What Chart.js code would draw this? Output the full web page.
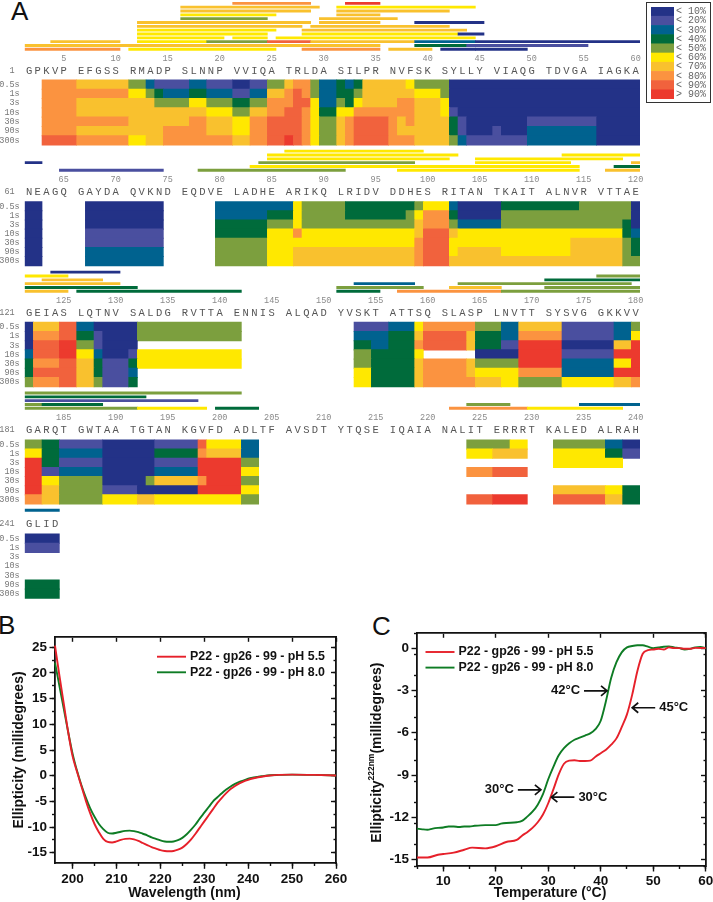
<!DOCTYPE html>
<html>
<head>
<meta charset="utf-8">
<title>P22 gp26 HX-MS and CD</title>
<script src="https://cdn.jsdelivr.net/npm/chart.js@4/dist/chart.umd.min.js"></script>
<style>
  html, body { margin: 0; padding: 0; background: #fff; overflow: hidden; }
  body { position: relative; width: 713px; height: 902px; }
  canvas { position: absolute; }
  .tag { position: absolute; font: 26px/26px "Liberation Sans", sans-serif; color: #111; }
  #legendBox { position: absolute; left: 646px; top: 2px; width: 63px; height: 99px; border: 1.5px solid #333; }
</style>
</head>
<body>
<div class="tag" style="left:11px;top:-2px">A</div>
<div class="tag" style="left:-2px;top:612px">B</div>
<div class="tag" style="left:372px;top:613px">C</div>
<div id="legendBox"></div>
<canvas id="block0"></canvas>
<canvas id="block1"></canvas>
<canvas id="block2"></canvas>
<canvas id="block3"></canvas>
<canvas id="block4"></canvas>
<canvas id="legendChart"></canvas>
<canvas id="cdChart"></canvas>
<canvas id="meltChart"></canvas>
<script>
// ---- panel A: sequence coverage and deuterium uptake ----
const TIMES = ['0.5s', '1s', '3s', '10s', '30s', '90s', '300s'];
const LEVEL_LABELS = ['< 10%', '< 20%', '< 30%', '< 40%', '< 50%', '< 60%', '< 70%', '< 80%', '< 90%', '> 90%'];
const LEVEL_COLORS = ['#233287', '#4A4F9F', '#00628F', '#006B3B', '#7C9F3E', '#FFE800', '#F9C12E', '#FB9340', '#F1623D', '#EC3A2E'];

const SEQUENCES = [
  'GPKVP EFGSS RMADP SLNNP VVIQA TRLDA SILPR NVFSK SYLLY VIAQG TDVGA IAGKA',
  'NEAGQ GAYDA QVKND EQDVE LADHE ARIKQ LRIDV DDHES RITAN TKAIT ALNVR VTTAE',
  'GEIAS LQTNV SALDG RVTTA ENNIS ALQAD YVSKT ATTSQ SLASP LNVTT SYSVG GKKVV',
  'GARQT GWTAA TGTAN KGVFD ADLTF AVSDT YTQSE IQAIA NALIT ERRRT KALED ALRAH',
  'GLID'
];
const FIRST_RESIDUES = [1, 61, 121, 181, 241];

// uptake rows: start slot, level, start slot, level, ..., end slot (null = no data)
const uptake0 = [
  [2,7,6,6,12,4,14,2,15,1,19,2,21,1,24,0,26,1,28,4,30,6,31,7,33,4,34,2,36,3,37,2,38,3,39,6,44,5,45,4,49,0,71],
  [2,7,12,5,14,4,15,3,16,2,19,3,21,2,24,1,26,2,28,6,30,7,31,8,32,7,33,4,34,2,36,3,38,4,39,6,45,5,48,4,49,0,71],
  [2,7,6,6,15,4,19,5,21,4,24,3,26,4,28,7,31,8,33,5,34,2,36,4,37,3,38,5,39,6,43,7,45,6,48,5,49,0,71],
  [2,7,6,6,21,5,24,4,26,6,28,7,30,8,32,7,33,5,34,3,36,5,38,7,45,6,48,5,49,1,50,0,71],
  [2,7,12,6,19,7,21,6,24,5,26,7,28,8,32,7,33,5,34,4,36,6,37,7,38,8,42,7,43,6,44,7,45,6,49,3,50,1,51,0,58,1,66,0,71],
  [2,7,6,6,16,7,21,6,24,5,26,7,28,8,32,7,33,5,34,4,36,6,37,7,38,8,42,7,43,6,49,3,50,1,51,0,54,1,55,0,58,2,66,0,71],
  [2,8,6,7,12,5,14,6,16,7,24,6,26,7,28,8,30,9,31,8,32,7,33,5,34,4,36,6,37,7,38,8,42,7,45,6,49,4,50,2,51,1,58,2,66,0,71]
];
const uptake1 = [
  [0,0,2,null,7,0,16,null,22,2,31,5,32,4,37,3,45,4,46,5,49,2,50,0,55,3,64,4,70,0,71],
  [0,0,2,null,7,0,16,null,22,2,28,3,31,5,32,4,37,3,44,4,45,5,46,7,49,3,50,0,55,4,70,0,71],
  [0,0,2,null,7,0,16,null,22,3,28,4,31,5,32,4,45,6,46,7,49,4,50,2,55,4,69,3,70,0,71],
  [0,0,2,null,7,1,16,null,22,3,28,5,31,7,32,5,45,6,46,8,49,6,50,5,69,3,70,2,71],
  [0,0,2,null,7,1,16,null,22,4,28,5,45,7,46,8,49,5,63,6,69,4,70,3,71],
  [0,0,2,null,7,2,16,null,22,4,28,5,31,6,45,7,46,8,49,5,50,6,55,5,63,6,69,4,70,3,71],
  [0,0,2,null,7,2,16,null,22,4,28,5,31,6,45,7,46,8,49,6,69,4,71]
];
const uptake2 = [
  [0,0,1,6,4,8,6,2,8,0,13,4,25,null,38,1,42,2,45,5,46,7,52,4,55,2,57,6,62,1,68,2,70,4,71],
  [0,0,1,7,4,8,6,3,8,1,9,0,13,4,25,null,38,2,42,3,45,6,46,8,51,6,52,3,55,2,57,7,62,1,68,2,70,5,71],
  [0,0,1,8,4,9,6,4,8,1,9,0,13,null,38,3,40,2,42,3,45,7,46,8,51,6,52,3,55,1,57,9,62,0,68,6,70,9,71],
  [0,2,1,8,4,9,6,5,8,2,9,0,12,1,13,5,25,null,38,4,40,3,45,5,46,null,52,0,57,9,62,1,68,9,71],
  [0,3,1,7,4,8,6,6,8,3,9,1,12,3,13,5,25,null,38,4,40,3,45,6,46,7,51,6,52,4,57,9,62,2,68,5,70,9,71],
  [0,3,1,8,6,6,8,3,9,1,12,2,13,null,38,5,40,3,45,6,46,7,51,6,52,5,57,7,62,2,68,9,71],
  [0,4,1,7,4,8,6,6,8,4,9,1,12,3,13,null,38,5,40,3,45,6,46,7,52,6,55,5,57,4,62,5,68,6,70,7,71]
];
const uptake3 = [
  [0,4,2,3,4,1,9,0,15,1,20,8,21,5,25,2,27,null,51,4,56,5,58,null,61,4,67,2,69,0,71],
  [0,5,2,3,4,2,9,0,15,3,20,7,21,6,25,2,27,null,51,5,54,6,58,null,61,5,67,3,69,1,71],
  [0,9,2,3,4,1,9,0,15,1,20,9,25,4,27,null,61,5,69],
  [0,9,2,1,4,2,9,0,15,2,20,9,25,5,27,null,51,7,54,8,58],
  [0,9,2,5,4,4,9,0,14,4,15,6,20,7,21,9,25,4,27],
  [0,9,2,6,4,4,9,1,13,0,20,9,25,5,27,null,61,6,67,5,69,3,71],
  [0,7,2,6,4,4,9,5,13,6,15,5,25,4,27,null,51,8,54,9,58,null,61,8,67,6,69,3,71]
];
const uptake4 = [[0,0,4], [0,1,4], [], [], [], [0,3,4], [0,3,4]];
const UPTAKE = [uptake0, uptake1, uptake2, uptake3, uptake4];

// peptides, one list per lane from the top: [start slot, end slot, level]
const peptides0 = [
  [[24,33,7],[37,41,9]],
  [[18,34,6],[36,52,5]],
  [[18,33,6],[36,49,6]],
  [[18,29,5],[36,41,6]],
  [[18,28,4],[34,43,6]],
  [[13,33,6],[34,41,6],[45,53,0]],
  [[13,32,6],[33,49,6]],
  [[13,29,5],[32,51,6]],
  [[13,28,5],[32,50,5],[50,53,0]],
  [[13,23,5],[24,28,5],[29,52,5]],
  [[3,11,6],[13,21,5],[21,28,4],[28,33,8],[33,45,6],[45,52,2],[52,71,0]],
  [[0,16,6],[16,33,6],[33,41,6],[45,51,3],[51,65,1]],
  [[0,11,7],[12,29,5],[32,41,7],[42,47,6],[48,52,0],[52,58,0]]
];
const peptides1 = [
  [[30,46,5]],
  [[28,50,5],[62,71,5]],
  [[28,49,5],[52,69,5]],
  [[0,2,0],[27,45,4],[52,63,5],[70,71,6]],
  [[26,44,5],[44,64,5],[68,71,3]],
  [[4,16,1],[20,37,4],[43,64,5],[67,71,6]]
];
const peptides2 = [
  [[3,11,0]],
  [[0,5,5],[66,71,4]],
  [[2,9,6],[60,71,3]],
  [[0,11,6],[38,45,2],[50,70,4]],
  [[0,13,3],[36,46,4],[49,55,6],[60,71,4]],
  [[0,5,6],[6,25,3],[36,41,3],[43,55,7],[55,71,4]]
];
const peptides3 = [
  [[0,25,4]],
  [[0,14,3]],
  [[0,20,1]],
  [[0,2,4],[2,9,3],[51,56,4],[64,71,2]],
  [[0,13,4],[13,21,5],[22,27,3],[49,58,7],[58,69,5]]
];
const peptides4 = [[[0,4,2]]];
const PEPTIDES = [peptides0, peptides1, peptides2, peptides3, peptides4];

// page geometry of each block, in px
const HEAT_TOPS = [80, 201.7, 322.3, 440, 534];
const HEAT_BOTTOMS = [145, 265.7, 386.7, 504, 598.3];
const CANVAS_TOPS = [0, 148, 268, 390, 506];
const LETTER_YS = [71, 191.7, 312.7, 430, 524];
const NUMBER_YS = [58.7, 179.7, 300.7, 418, null];
const LAST_LANE_YS = [49.3, 170.3, 291.3, 408.3, 510.3];
const LANE_PITCH = 3.83;
const PLOT_LEFT = 24.7, PLOT_RIGHT = 640, SLOTS = 71;
const MONO = '"Liberation Mono", monospace';
const NO_GRID = { display: false, drawTicks: false };

function heatCells(rows) {
  const cells = [];
  rows.forEach((row, r) => {
    for (let i = 0; i + 2 < row.length; i += 2) {
      if (row[i + 1] !== null) cells.push({ x: [row[i], row[i + 2]], y: r + 0.5, level: row[i + 1] });
    }
  });
  return cells;
}

// axes inside the plot must not take room from it
function noRoom(s) {
  s.paddingTop = 0; s.paddingBottom = 0; s.paddingLeft = 0; s.paddingRight = 0;
}

function drawBlock(b) {
  const canvas = document.getElementById('block' + b);
  const rowH = (HEAT_BOTTOMS[b] - HEAT_TOPS[b]) / 7;
  const top = CANVAS_TOPS[b];
  const height = Math.ceil(HEAT_BOTTOMS[b] + 4 - top);
  canvas.width = 713; canvas.height = height;
  canvas.style.left = '0px'; canvas.style.top = top + 'px';
  const toRow = px => (px - HEAT_TOPS[b]) / rowH;

  const lanes = PEPTIDES[b];
  const pepData = [];
  lanes.forEach((lane, i) => lane.forEach(p => {
    const px = LAST_LANE_YS[b] - (lanes.length - 1 - i) * LANE_PITCH;
    pepData.push({ x: [p[0], p[1]], y: toRow(px), level: p[2] });
  }));
  const cells = heatCells(UPTAKE[b]);

  const seq = SEQUENCES[b];
  const letterSlots = [];
  const numberSlots = [];
  let residue = FIRST_RESIDUES[b];
  for (let s = 0; s < seq.length; s++) {
    if (seq[s] === ' ') continue;
    letterSlots.push(s);
    if (residue % 5 === 0) numberSlots.push({ slot: s, residue });
    residue++;
  }

  const letterRow = toRow(LETTER_YS[b]);
  const scales = {
    x: { type: 'linear', min: 0, max: SLOTS, display: false },
    y: {
      type: 'linear', reverse: true, offset: false, min: toRow(top), max: toRow(top + height),
      grid: NO_GRID, border: { display: false },
      afterFit: s => { s.width = PLOT_LEFT; noRoom(s); },
      afterBuildTicks: s => {
        s.ticks = [{ value: letterRow }].concat(TIMES.map((t, i) => ({ value: i + 0.5 })));
      },
      ticks: {
        autoSkip: false, padding: 5, color: '#777', font: { family: MONO, size: 8.5 },
        callback: (v, i) => i === 0 ? FIRST_RESIDUES[b] + ' ' : TIMES[i - 1]
      }
    },
    xLetters: {
      axis: 'x', type: 'linear', min: 0, max: SLOTS, position: { y: toRow(LETTER_YS[b] - 6) },
      grid: NO_GRID, border: { display: false }, afterFit: noRoom,
      afterBuildTicks: s => { s.ticks = letterSlots.map(v => ({ value: v + 0.5 })); },
      ticks: {
        autoSkip: false, maxRotation: 0, padding: 0, color: '#555', font: { family: MONO, size: 10.5 },
        callback: (v, i) => seq[letterSlots[i]]
      }
    }
  };
  if (NUMBER_YS[b] !== null) {
    scales.xNumbers = {
      axis: 'x', type: 'linear', min: 0, max: SLOTS, position: { y: toRow(NUMBER_YS[b] - 5) },
      grid: NO_GRID, border: { display: false }, afterFit: noRoom,
      afterBuildTicks: s => { s.ticks = numberSlots.map(n => ({ value: n.slot + 0.5 })); },
      ticks: {
        autoSkip: false, maxRotation: 0, padding: 0, color: '#8a8a8a', font: { family: MONO, size: 8.5 },
        callback: (v, i) => String(numberSlots[i].residue)
      }
    };
  }

  new Chart(canvas, {
    type: 'bar',
    data: {
      datasets: [
        {
          label: 'uptake', data: cells, grouped: false, barThickness: rowH + 0.4, borderWidth: 0,
          backgroundColor: cells.map(c => LEVEL_COLORS[c.level])
        },
        {
          label: 'peptides', data: pepData, grouped: false, barThickness: 2.2, borderWidth: 0,
          backgroundColor: pepData.map(c => LEVEL_COLORS[c.level])
        }
      ]
    },
    options: {
      indexAxis: 'y', responsive: false, animation: false, devicePixelRatio: 1,
      layout: { padding: { left: 0, right: 713 - PLOT_RIGHT, top: 0, bottom: 0 } },
      plugins: { legend: { display: false }, tooltip: { enabled: false } },
      scales
    }
  });
}
SEQUENCES.forEach((s, b) => drawBlock(b));

// colour key
const legendCanvas = document.getElementById('legendChart');
legendCanvas.width = 62; legendCanvas.height = 92;
legendCanvas.style.left = '650.7px'; legendCanvas.style.top = '6.6px';
new Chart(legendCanvas, {
  type: 'bar',
  data: {
    labels: LEVEL_LABELS,
    datasets: [{ data: LEVEL_LABELS.map(() => 1), backgroundColor: LEVEL_COLORS, barPercentage: 1, categoryPercentage: 1, borderWidth: 0 }]
  },
  options: {
    indexAxis: 'y', responsive: false, animation: false, devicePixelRatio: 1,
    layout: { padding: 0 },
    plugins: { legend: { display: false }, tooltip: { enabled: false } },
    scales: {
      x: { min: 0, max: 1, display: false },
      y: {
        position: 'right', grid: NO_GRID, border: { display: false },
        afterFit: s => { s.width = 39; noRoom(s); },
        ticks: { autoSkip: false, padding: 2, color: '#666', font: { family: MONO, size: 10 } }
      }
    }
  }
});

// ---- panels B and C: circular dichroism ----
const wavelengths = [196,197,198,199,200,201,202,203,204,205,206,207,208,209,210,211,212,213,214,215,216,217,218,219,220,221,222,223,224,225,226,227,228,229,230,231,232,233,234,235,236,237,238,239,240,241,242,243,244,245,247,250,255,260];
const cdPh55 = [25.3,19.5,14,8.5,3.8,0.8,-2,-4.8,-7.3,-9.4,-11,-12.3,-12.9,-13,-12.8,-12.5,-12.3,-12.25,-12.4,-12.7,-13.1,-13.5,-13.9,-14.2,-14.5,-14.65,-14.7,-14.65,-14.4,-14,-13.3,-12.4,-11.3,-10.1,-8.9,-7.7,-6.5,-5.3,-4.3,-3.4,-2.6,-2,-1.5,-1.1,-0.8,-0.55,-0.35,-0.2,-0.05,0.05,0.15,0.2,0.15,0.05];
const cdPh80 = [22,17.5,13,8.5,4.3,1,-1.8,-4.2,-6.3,-8,-9.4,-10.4,-11.1,-11.25,-11.1,-10.9,-10.75,-10.7,-10.8,-11,-11.3,-11.6,-12,-12.3,-12.6,-12.8,-12.85,-12.8,-12.55,-12.1,-11.4,-10.5,-9.5,-8.3,-7.2,-6.1,-5,-4.2,-3.4,-2.7,-2.1,-1.6,-1.2,-0.9,-0.6,-0.4,-0.25,-0.1,0,0.1,0.15,0.2,0.15,0.05];

const tempsPh55 = [5,7,9,10,12,14,15.5,18,20,22,24,25,26,27,28,29,30,31,32,33,34,35,36,37,38,39,40,41,42,43,44,45,46,47,48,49,50,51,52,53,54,55,56,57,58,60];
const meltPh55 = [-14.85,-14.85,-14.65,-14.6,-14.5,-14.3,-14.15,-14.2,-14.05,-13.75,-13.6,-13.3,-13.05,-12.75,-12.35,-11.8,-11,-10,-8.95,-8.2,-7.98,-7.95,-8,-8,-7.98,-7.7,-7.45,-7.2,-6.85,-6.4,-5.6,-4.7,-3.3,-1.6,-0.4,-0.15,-0.1,-0.05,-0.1,0.05,0,0,-0.05,-0.05,0.02,0];
const tempsPh80 = [5,6,7,8,9,10,11,12,13,14,15,16,18,20,21,22,24,25,26,27,28,29,30,31,32,33,34,35,36,37,38,39,40,41,42,43,44,45,46,47,48,49,50,51,52,53,54,55,56,57,58,59,60];
const meltPh80 = [-12.8,-12.85,-12.88,-12.8,-12.75,-12.72,-12.65,-12.65,-12.68,-12.65,-12.65,-12.6,-12.55,-12.55,-12.45,-12.4,-12.35,-12.25,-11.95,-11.6,-11.1,-10.35,-9.3,-8.4,-7.6,-7.1,-6.75,-6.5,-6.35,-6.2,-6.05,-5.75,-5.15,-3.75,-2.1,-1,-0.3,0.05,0.15,0.2,0.2,0.1,0,0.05,0.1,0.12,0.05,0,-0.1,-0.05,0.05,0.08,0];

const noteLabels = ['42°C', '45°C', '30°C', '30°C'];
const noteTemps = [41.2, 46, 28.6, 30.6];
const noteValues = [-3.03, -4.23, -10.05, -10.57];
const noteDirs = [1, -1, 1, -1];

const SERIES_NAMES = ['P22 - gp26 - 99 - pH 5.5', 'P22 - gp26 - 99 - pH 8.0'];
const RED = '#E6202A', GREEN = '#0E7C24', INK = '#111';
const SANS = '"Liberation Sans", Arial, sans-serif';

function zipXY(xs, ys) { return xs.map((x, i) => ({ x, y: ys[i] })); }

// box frame: outward ticks left/bottom, inward ticks top/right, each with minor marks
function frameScales(o) {
  const tickAxis = (axis, pos, step, len, min, max) => ({
    axis, type: 'linear', min, max, position: pos,
    ticks: { display: false, stepSize: step, includeBounds: false },
    grid: { drawOnChartArea: false, tickLength: len, tickWidth: 1.4, tickColor: INK },
    border: { display: false }
  });
  const labelFont = { family: SANS, size: 13.5, weight: 'bold' };
  const titleFont = { family: SANS, size: 14, weight: 'bold' };
  return {
    x: {
      type: 'linear', min: o.xMin, max: o.xMax,
      ticks: { stepSize: o.xStep, includeBounds: false, maxRotation: 0, padding: 2, color: INK, font: labelFont, callback: v => String(v) },
      grid: { drawOnChartArea: false, tickLength: 5.5, tickWidth: 1.4, tickColor: INK },
      border: { color: INK, width: 1.8 },
      afterFit: s => { s.height = o.xAxisHeight; }
    },
    y: {
      type: 'linear', min: o.yMin, max: o.yMax,
      ticks: { stepSize: o.yStep, includeBounds: false, padding: 2.5, color: INK, font: labelFont, callback: v => String(v) },
      grid: { drawOnChartArea: false, tickLength: 5.5, tickWidth: 1.4, tickColor: INK },
      border: { color: INK, width: 1.8 },
      afterFit: s => { s.width = o.yAxisWidth; },
      title: { display: !!o.yTitle, text: o.yTitle, color: INK, font: titleFont, padding: { top: o.yTitlePad, bottom: 0 } }
    },
    xMinor: tickAxis('x', { y: o.yMin }, o.xStep / 2, 3, o.xMin, o.xMax),
    xTop: Object.assign(tickAxis('x', { y: o.yMax }, o.xStep, 4, o.xMin, o.xMax), { border: { display: true, color: INK, width: 1.8 } }),
    yMinor: tickAxis('y', { x: o.xMin }, o.yStep / 2, 3, o.yMin, o.yMax),
    yRight: Object.assign(tickAxis('y', { x: o.xMax }, o.yStep, 4, o.yMin, o.yMax), { border: { display: true, color: INK, width: 1.8 } }),
    yRightMinor: tickAxis('y', { x: o.xMax }, o.yStep / 2, 2.5, o.yMin, o.yMax)
  };
}

function lineDataset(label, points, color) {
  return { label, data: points, borderColor: color, borderWidth: 1.9, pointRadius: 0, cubicInterpolationMode: 'monotone', clip: false };
}

// in-plot legend drawn from the dataset labels, plus the x title (sits left of the plot centre)
function legendPlugin(lineX, lineLen, firstY, gap, xTitle, xTitleCenter, xTitleY) {
  return {
    id: 'inPlotLegend',
    afterDraw(chart) {
      const ctx = chart.ctx;
      ctx.save();
      ctx.font = 'bold 12.4px ' + SANS;
      ctx.textBaseline = 'middle';
      chart.data.datasets.forEach((d, i) => {
        const y = firstY + i * gap;
        ctx.strokeStyle = d.borderColor; ctx.lineWidth = 1.9;
        ctx.beginPath(); ctx.moveTo(lineX, y); ctx.lineTo(lineX + lineLen, y); ctx.stroke();
        ctx.fillStyle = INK;
        ctx.fillText(d.label, lineX + lineLen + 4, y);
      });
      ctx.font = 'bold 14px ' + SANS;
      ctx.textAlign = 'center';
      ctx.fillText(xTitle, xTitleCenter, xTitleY);
      ctx.restore();
    }
  };
}

const meltNotes = {
  id: 'meltNotes',
  afterDraw(chart) {
    const ctx = chart.ctx, sx = chart.scales.x, sy = chart.scales.y;
    ctx.save();
    ctx.font = 'bold 13px ' + SANS;
    ctx.textBaseline = 'middle';
    ctx.fillStyle = INK; ctx.strokeStyle = INK; ctx.lineWidth = 1.7;
    noteLabels.forEach((text, i) => {
      const tipX = sx.getPixelForValue(noteTemps[i]), y = sy.getPixelForValue(noteValues[i]);
      const dir = noteDirs[i], tail = tipX - dir * 23;
      ctx.beginPath();
      ctx.moveTo(tail, y); ctx.lineTo(tipX, y);
      ctx.moveTo(tipX - dir * 6, y - 5); ctx.lineTo(tipX, y); ctx.lineTo(tipX - dir * 6, y + 5);
      ctx.stroke();
      ctx.textAlign = dir > 0 ? 'right' : 'left';
      ctx.fillText(text, tail - dir * 4, y);
    });
    // y title with its superscript
    ctx.translate(24, (chart.chartArea.top + chart.chartArea.bottom) / 2 + 3);
    ctx.rotate(-Math.PI / 2);
    ctx.textAlign = 'left';
    const parts = [['Ellipticity', 14, 0], ['222nm', 8.5, -5], ['(millidegrees)', 14, 0]];
    let total = 0;
    parts.forEach(p => { ctx.font = 'bold ' + p[1] + 'px ' + SANS; total += ctx.measureText(p[0]).width; });
    let at = -total / 2;
    parts.forEach(p => {
      ctx.font = 'bold ' + p[1] + 'px ' + SANS;
      ctx.fillText(p[0], at, p[2]);
      at += ctx.measureText(p[0]).width;
    });
    ctx.restore();
  }
};

const cdCanvas = document.getElementById('cdChart');
cdCanvas.width = 352; cdCanvas.height = 282;
cdCanvas.style.left = '0px'; cdCanvas.style.top = '620px';
new Chart(cdCanvas, {
  type: 'line',
  data: {
    datasets: [
      lineDataset(SERIES_NAMES[0], zipXY(wavelengths, cdPh55), RED),
      lineDataset(SERIES_NAMES[1], zipXY(wavelengths, cdPh80), GREEN)
    ]
  },
  options: {
    responsive: false, animation: false, devicePixelRatio: 1,
    layout: { padding: { left: 0, right: 16, top: 16.7, bottom: 0 } },
    plugins: { legend: { display: false }, tooltip: { enabled: false } },
    scales: frameScales({
      xMin: 196, xMax: 260, xStep: 10, yMin: -17.05, yMax: 27.05, yStep: 5,
      xAxisHeight: 38.7, yAxisWidth: 55,
      yTitle: 'Ellipticity (millidegrees)', yTitlePad: 10.4
    })
  },
  plugins: [legendPlugin(157, 29, 36.7, 15.6, 'Wavelength (nm)', 184.5, 273.3)]
});

const meltCanvas = document.getElementById('meltChart');
meltCanvas.width = 365; meltCanvas.height = 282;
meltCanvas.style.left = '353px'; meltCanvas.style.top = '620px';
new Chart(meltCanvas, {
  type: 'line',
  data: {
    datasets: [
      lineDataset(SERIES_NAMES[0], zipXY(tempsPh55, meltPh55), RED),
      lineDataset(SERIES_NAMES[1], zipXY(tempsPh80, meltPh80), GREEN)
    ]
  },
  options: {
    responsive: false, animation: false, devicePixelRatio: 1,
    layout: { padding: { left: 0, right: 12.3, top: 13.3, bottom: 0 } },
    plugins: { legend: { display: false }, tooltip: { enabled: false } },
    scales: frameScales({
      xMin: 5, xMax: 60, xStep: 10, yMin: -15.45, yMax: 1.05, yStep: 3,
      xAxisHeight: 36, yAxisWidth: 64,
      yTitle: '', yTitlePad: 0
    })
  },
  plugins: [legendPlugin(72.5, 29, 32, 15.6, 'Temperature (°C)', 197, 272.7), meltNotes]
});
</script>
</body>
</html>
